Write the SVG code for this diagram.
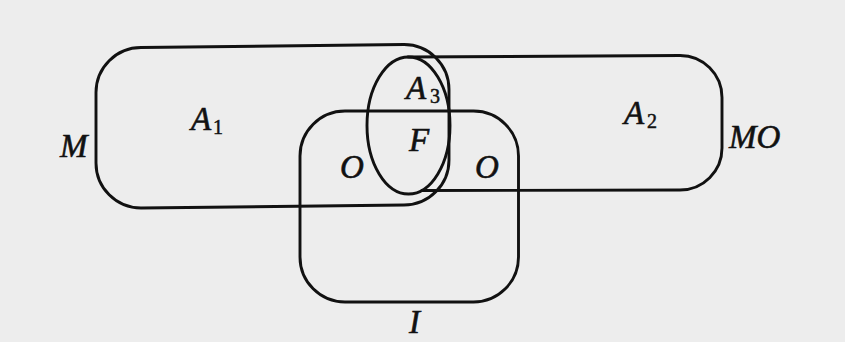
<svg xmlns="http://www.w3.org/2000/svg" width="845" height="342" viewBox="0 0 845 342">
  <style>
    .outline { fill: none; stroke: #111; stroke-width: 2.9; stroke-linejoin: round; stroke-linecap: round; }
    .lbl { font-family: "Liberation Serif", "Times New Roman", serif; font-style: italic; font-size: 33px; fill: #111; stroke: #111; stroke-width: 0.6; }
    .sub { font-family: "Liberation Serif", "Times New Roman", serif; font-size: 20px; fill: #111; stroke: #111; stroke-width: 0.5; }
  </style>
  <rect width="845" height="342" fill="#ededed"/>
  <g id="set-M">
    <path class="outline" d="M 141,47.5 L 404,44.5 A 45 45 0 0 1 449,89.5 L 449,160 A 45 45 0 0 1 404,205 L 141,208 A 45 45 0 0 1 96,163 L 96,92.5 A 45 45 0 0 1 141,47.5 Z"/>
    <text class="lbl" x="60" y="157">M</text>
    <text class="lbl" x="191" y="130">A</text><text class="sub" x="213" y="134">1</text>
  </g>
  <g id="set-MO">
    <path class="outline" d="M 408,57 L 680,55.5 A 42 42 0 0 1 722,97.5 L 722,148 A 42 42 0 0 1 680,190 L 422,190.5"/>
    <text class="lbl" x="729" y="148">MO</text>
    <text class="lbl" x="624" y="124">A</text><text class="sub" x="647" y="128">2</text>
  </g>
  <g id="set-A3">
    <ellipse class="outline" cx="408.5" cy="125.5" rx="41.5" ry="68.5"/>
    <text class="lbl" x="406" y="99">A</text><text class="sub" x="430" y="103">3</text>
    <text class="lbl" x="409" y="151">F</text>
  </g>
  <g id="set-I">
    <rect class="outline" x="300" y="111" width="218.5" height="191" rx="45" ry="45"/>
    <text class="lbl" x="340" y="178">O</text>
    <text class="lbl" x="475" y="178">O</text>
    <text class="lbl" x="409" y="333">I</text>
  </g>
  <g id="connectors"/>
</svg>
